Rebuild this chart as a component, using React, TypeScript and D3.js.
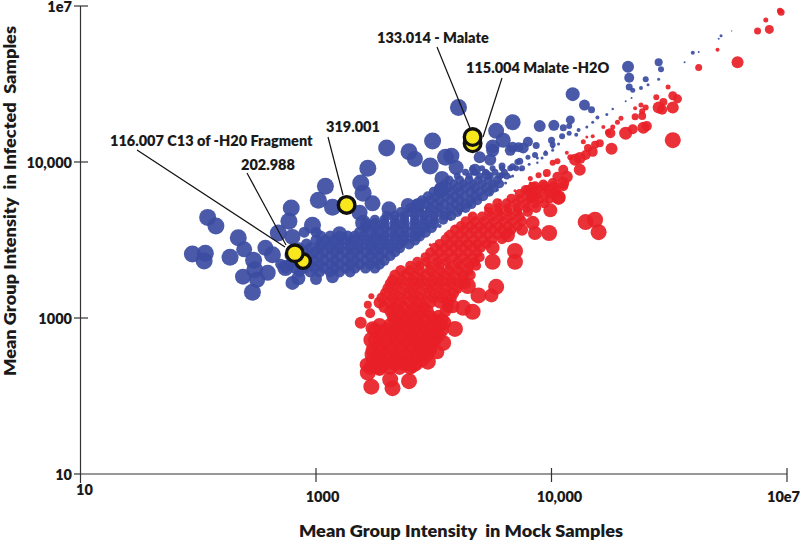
import React from "react";
import * as d3 from "d3";

type P = [number, number, number];
type Row = [number, number, number[]];

// All intensities are log10 values; third number is the point's score (bubble size).
const xTickValues = [10, 1000, 100000, 10000000];
const xTickLabels = ["10", "1000", "10,000", "10e7"];
const yTickValues = [10, 1000, 100000, 10000000];
const yTickLabels = ["10", "1000", "10,000", "1e7"];

const blueScattered: P[] = [
  [4.21,5.70,8.5],[3.6,5.18,8.5],[3.99,5.27,8.5],[3.79,5.13,8.5],[3.84,5.04,8],[3.97,4.95,8.5],[4.1,5.06,8.5],[4.15,5.08,8],
  [4.19,4.93,7.5],[4.07,4.79,7.5],[4.06,4.64,7.5],[3.44,4.92,8.5],[3.38,4.73,8.5],[3.4,4.6,8.5],[3.48,4.47,8],[3.08,4.69,8.5],
  [3.02,4.51,8.5],[3.14,4.42,8.5],[3.62,4.4,7.5],[3.78,4.45,7],[3.87,4.45,7],[2.79,4.41,8.5],[2.77,4.24,8.5],[2.08,4.29,8.5],
  [2.15,4.18,8.5],[2.34,4.03,8.5],[2.39,3.88,8],[1.95,3.82,8.5],[2.06,3.83,8.5],[2.05,3.73,8.5],[2.27,3.78,8.5],[2.46,3.33,8.5],
  [2.38,3.53,8],[2.47,3.74,8.5],[2.48,3.62,8.5],[2.57,3.9,8],[2.63,3.81,8.5],[2.68,4.09,8.5],[2.8,4.04,8],[2.97,4.19,8.5],
  [3.2,4.08,7.5],[2.59,3.58,8],[2.8,3.45,7],[2.85,3.51,7],[3.0,3.5,6],[3.14,3.53,6.5],[2.74,3.64,8],[2.5,3.49,8],[3.4,4.22,8],
  [3.37,4.35,8],[4.67,5.51,8],[4.53,5.4,8],[4.59,5.28,7.5],[4.5,5.2,7],[4.5,5.15,6.5],[4.39,5.06,6],[4.48,5.03,6],[4.35,4.9,6],
  [4.45,4.83,5],[4.65,5.15,5.5],
  [5.65,6.22,6],[5.91,6.28,4],[5.93,6.19,3],[5.66,6.08,5],[5.8,6.06,3],[5.66,5.96,3.5],[5.69,5.92,2.5],[5.76,5.95,2],[5.82,5.99,1.5],
  [5.91,6.06,1.5],[6.2,6.4,2],[6.25,6.41,1],[6.13,6.28,1],[6.44,6.62,1.5],[6.42,6.58,1],[6.53,6.68,0.6],[5.18,5.87,7],[5.28,5.73,5.5],
  [5.34,5.67,3.5],[4.9,5.46,6],[5.02,5.47,5.5],[5.16,5.54,4.5],[5.1,5.44,3.5],[5.15,5.46,3],[5.09,5.33,3],[5.15,5.37,2.5],[5.21,5.35,2],
  [5.23,5.41,2],[5.39,5.57,2],[5.35,5.51,1.5],[5.3,5.45,1.5],[5.47,5.61,1.5],[5.52,5.68,1.2],[5.63,5.78,1],[5.68,5.82,1],[4.67,5.19,5.5],
  [4.76,5.18,5.5],[4.8,5.26,5],[4.87,5.21,3.5],[4.72,5.19,5],[5.0,5.28,3.5],[5.01,5.22,3],[4.86,5.09,3],[4.8,5.06,2.5],[4.73,5.01,3.5],
  [4.71,5.0,3],[4.67,4.94,3.5],[4.75,4.92,3],[4.58,4.95,3.5],[4.58,4.83,3],[4.95,5.11,2.5],[4.92,5.05,1.5],[5.01,5.15,1.5],[5.06,5.23,1.5],
  [4.88,4.99,1.2],[4.65,4.81,1.5],
  [4.05,4.18,2],[4.14,4.27,2],[4.22,4.35,2],[4.31,4.44,2],[4.39,4.53,2],[4.48,4.6,2],[4.54,4.64,1.5],[4.61,4.73,1.5],[4.67,4.82,1.5],
  [4.74,4.9,1.5],[4.81,4.97,1.5],[4.88,5.05,1.5],[4.95,5.13,1.5],[5.01,5.19,1.5],
];

const blueMass: Row[] = [
  [3.59,5.5,[2.86,2.95,3.03,3.12,3.2,3.29]],
  [3.64,5.5,[2.74,2.82,2.9,2.99,3.07,3.16,3.25,3.33,3.42,3.5]],
  [3.69,5.5,[2.7,2.78,2.86,2.95,3.03,3.12,3.2,3.29,3.37,3.46,3.54]],
  [3.74,5.5,[2.82,2.9,2.99,3.07,3.16,3.25,3.33,3.42,3.5,3.58]],
  [3.8,5.5,[2.78,2.86,2.95,3.03,3.12,3.2,3.29,3.37,3.46,3.54,3.63]],
  [3.85,5.5,[2.9,2.99,3.07,3.16,3.25,3.33,3.42,3.5,3.58,3.67]],
  [3.9,5.5,[2.86,2.95,3.03,3.12,3.2,3.29,3.37,3.46,3.54,3.63,3.71]],
  [3.95,5.5,[2.92,3.04,3.12,3.2,3.29,3.37,3.46,3.54,3.62,3.71,3.79]],
  [4.0,5.5,[3.0,3.08,3.16,3.25,3.33,3.42,3.5,3.58,3.67,3.75,3.84]],
  [4.05,5.5,[3.04,3.12,3.2,3.27,3.33,3.41,3.5,3.58,3.67,3.75,3.84,3.88]],
  [4.1,5.5,[2.9,3.0,3.37,3.46,3.54,3.63,3.71,3.8,3.88,3.93]],
  [4.16,5.5,[3.42,3.5,3.58,3.67,3.75,3.84,3.92,3.98]],
  [4.21,5.5,[3.42,3.5,3.58,3.67,3.75,3.84,3.92,4.0]],
  [4.26,5,[3.5,3.58,3.67,3.75,3.84,3.92,4.0,4.08]],
  [4.31,5,[3.6,3.67,3.75,3.84,3.92,4.0,4.09,4.15]],
  [4.36,5,[3.72,3.8,3.88,3.96,4.04,4.12,4.2]],
  [4.41,5,[3.8,3.88,3.97,4.05,4.14,4.22,4.27]],
  [4.46,5,[3.85,3.93,4.01,4.09,4.18,4.26,4.32]],
  [4.51,5,[3.9,3.97,4.05,4.14,4.22,4.31,4.37]],
  [4.56,5,[3.95,4.02,4.1,4.18,4.26,4.35,4.42]],
  [4.62,5,[4.0,4.07,4.14,4.22,4.31,4.39,4.47]],
  [4.67,5,[4.05,4.12,4.2,4.27,4.35,4.44,4.51]],
  [4.72,4.5,[4.09,4.17,4.25,4.33,4.41,4.5,4.56]],
  [4.77,4.5,[4.13,4.22,4.3,4.38,4.46,4.54]],
  [4.82,3.5,[4.2,4.3,4.39,4.48,4.56,4.62]],
  [4.87,3.5,[4.27,4.35,4.44,4.52,4.6]],
  [4.92,3,[4.33,4.41,4.5,4.58,4.65,4.7]],
];

const redScattered: P[] = [
  [3.47,2.12,8],[3.65,2.1,8],[3.79,2.19,8],[3.44,2.3,8],[3.43,2.4,7],[3.63,2.21,8],[3.54,2.36,8],[3.82,2.4,8],[3.95,2.44,8],[4.03,2.56,7],
  [4.08,2.68,8],[4.18,2.86,8],[4.08,2.94,8],[3.94,2.68,8],[3.48,2.53,8],[3.47,2.72,8],[3.48,2.87,7],[3.38,2.94,6],[3.46,3.06,5],[3.44,3.17,4],
  [3.47,3.28,3],[4.53,3.4,8],[4.49,3.29,7],[4.38,3.29,8],[4.29,3.41,8],[4.33,3.08,8],[4.25,3.13,8],[4.16,3.15,7],[4.69,3.72,8],[4.69,3.86,8],
  [4.5,3.72,8],[4.5,3.9,7],[4.98,4.09,8],[4.86,4.09,7],[4.84,4.22,7],[4.75,4.13,6],[4.63,4.06,7],[4.99,4.38,7],[5.06,4.54,7],[5.29,4.23,8],
  [5.37,4.26,8],[5.4,4.1,8],
  [6.95,6.92,3.5],[6.94,6.94,3],[6.82,6.82,2.5],[6.85,6.7,4.5],[6.75,6.68,3.5],[6.58,6.28,6],[6.41,6.44,2],[6.25,6.21,3.5],[5.99,5.96,2.5],
  [6.03,5.28,8],[6.03,5.85,4.5],[6.07,5.81,4.5],[5.89,5.83,3],[5.95,5.77,4],[5.91,5.7,6],[5.94,5.67,5],[6.03,5.7,6],[5.8,5.7,3],[5.76,5.73,2.5],
  [5.71,5.69,2],[5.77,5.65,3],[5.77,5.59,4],[5.71,5.58,3.5],[5.59,5.56,2.5],[5.56,5.51,2.5],[5.52,5.45,2.5],[5.44,5.45,2],[5.5,5.37,5],[5.48,5.38,3],
  [5.35,5.33,2],[5.3,5.32,1.5],[5.27,5.26,2.5],[5.63,5.37,6.5],[5.69,5.42,5],[5.78,5.44,6],[5.81,5.46,5],[5.51,5.17,6],[5.37,5.22,4],[5.41,5.24,4],
  [5.35,5.13,5],[5.31,5.18,4],[5.29,5.09,5],[5.24,5.05,6],[5.2,5.03,6],[5.24,4.9,6],[5.16,5.06,3],[5.13,5.12,2],[5.05,5.01,3],[5.01,4.99,3],
  [5.1,4.9,5],[5.13,4.81,6],[5.1,4.73,6],[5.05,4.81,5],[4.96,4.86,4],[4.89,4.83,3],[4.82,4.79,2.5],[5.01,4.73,5],[4.93,4.71,5],[4.84,4.68,5],
  [4.78,4.64,5],[5.06,4.55,7],[4.84,4.55,6],
  [3.97,3.94,1.5],[4.1,4.08,1.5],[4.18,4.18,1.5],[4.31,4.31,1.5],[4.44,4.41,1.5],[4.56,4.51,1.5],[4.69,4.63,1.5],[4.82,4.73,1.5],[4.95,4.83,1.5],
];

const redMass: Row[] = [
  [2.36,7,[3.46,3.54,3.63,3.71,3.8]],
  [2.41,7,[3.5,3.58,3.67,3.75,3.85]],
  [2.46,7,[3.48,3.56,3.65,3.73,3.82,3.9]],
  [2.52,7,[3.52,3.6,3.69,3.77,3.86,3.94]],
  [2.59,7,[3.48,3.56,3.65,3.73,3.82,3.9,3.97]],
  [2.65,7,[3.54,3.62,3.71,3.8,3.88,3.97]],
  [2.72,7,[3.5,3.59,3.67,3.76,3.84,3.93,4.01]],
  [2.78,7,[3.54,3.63,3.72,3.8,3.89,3.97,4.04]],
  [2.85,7,[3.5,3.59,3.67,3.76,3.84,3.93,4.01,4.07]],
  [2.91,7,[3.54,3.63,3.71,3.8,3.88,3.97,4.05]],
  [2.97,7,[3.67,3.76,3.84,3.93,4.01,4.07]],
  [3.03,6,[3.65,3.72,3.8,3.88,3.97,4.04]],
  [3.09,6,[3.63,3.71,3.8,3.88,3.95,4.1]],
  [3.14,6,[3.58,3.67,3.75,3.84,3.92,4.12]],
  [3.2,6,[3.54,3.63,3.71,3.8,3.88,3.97,4.05,4.12]],
  [3.26,5.5,[3.56,3.65,3.73,3.82,3.9,3.99,4.07,4.15]],
  [3.32,5.5,[3.59,3.67,3.76,3.84,3.93,4.01,4.09,4.17]],
  [3.38,5.5,[3.61,3.69,3.78,3.86,3.95,4.03,4.11,4.2]],
  [3.44,5.5,[3.63,3.71,3.8,3.88,3.97,4.05,4.14,4.22,4.27]],
  [3.49,5.5,[3.65,3.73,3.82,3.9,3.99,4.07,4.15,4.24]],
  [3.55,5.5,[3.67,3.76,3.84,3.93,4.01,4.09,4.17,4.25,4.31]],
  [3.61,5.5,[3.72,3.8,3.88,3.97,4.05,4.13,4.21,4.29]],
  [3.67,5,[3.8,3.88,3.97,4.05,4.14,4.22,4.3,4.36]],
  [3.72,5,[3.86,3.94,4.03,4.11,4.2,4.28,4.35]],
  [3.78,5,[3.93,4.01,4.09,4.17,4.25,4.33,4.39]],
  [3.84,5,[3.97,4.05,4.13,4.21,4.29,4.37]],
  [3.9,5,[4.01,4.09,4.17,4.25,4.33,4.4]],
  [3.95,5,[4.05,4.13,4.21,4.29,4.37,4.45]],
  [4.01,5,[4.1,4.18,4.26,4.34,4.42,4.5,4.58]],
  [4.07,5,[4.14,4.22,4.3,4.38,4.46,4.54,4.62]],
  [4.13,5,[4.18,4.26,4.34,4.42,4.5,4.58,4.66]],
  [4.18,5,[4.23,4.31,4.39,4.47,4.55,4.63,4.71]],
  [4.24,5,[4.27,4.35,4.43,4.51,4.59,4.67,4.75]],
  [4.3,5,[4.33,4.41,4.49,4.57,4.65,4.73]],
  [4.36,5,[4.47,4.55,4.63,4.71,4.8]],
  [4.41,5,[4.47,4.55,4.63,4.71,4.79,4.87]],
  [4.47,5,[4.54,4.62,4.7,4.78,4.86,4.94]],
  [4.53,5,[4.66,4.74,4.82,4.9,4.98]],
  [4.59,5,[4.73,4.81,4.89,4.97,5.03]],
  [4.64,5,[4.8,4.88,4.96,5.04]],
  [4.69,5,[4.86,4.94,5.02,5.1]],
];

const highlighted: P[] = [
  [4.33,5.24,8.3],[4.33,5.32,8.3],[3.26,4.45,8.3],[2.89,3.73,7.3],[2.82,3.83,8.3],
];

const annotations = [
  { label: "133.014 - Malate", tx: 377, ty: 43, from: [437, 47], to: [470, 128] },
  { label: "115.004 Malate -H2O", tx: 466, ty: 73, from: [502, 78], to: [483, 137] },
  { label: "319.001", tx: 326, ty: 132, from: [328, 137], to: [343, 195] },
  { label: "116.007 C13 of -H20 Fragment", tx: 110, ty: 146, from: [137, 150], to: [285, 247] },
  { label: "202.988", tx: 241, ty: 170, from: [247, 173], to: [286, 245] },
];

const W = 800, H = 542;
const FONT = "Lato, 'Open Sans', sans-serif";
const BLUE = "#3b4ca2";
const RED = "#e81f27";

const x = d3.scaleLog().domain([10, 1e7]).range([80.5, 787]);
const y = d3.scaleLog().domain([10, 1e7]).range([474, 6]);
const r = d3.scaleLinear().domain([0, 10]).range([0, 10]);

const expand = (rows: Row[]): P[] =>
  rows.flatMap(([ye, s, xs]) => xs.map((xe) => [xe, ye, s] as P));

function Bubbles({ data, fill }: { data: P[]; fill: string }) {
  return (
    <g fill={fill} fillOpacity={0.92}>
      {data.map((d, i) => (
        <circle key={i} cx={x(10 ** d[0])} cy={y(10 ** d[1])} r={r(d[2])} />
      ))}
    </g>
  );
}

export default function App() {
  const txt = { fontFamily: FONT, fontWeight: 800, fill: "#1a1a1a" } as const;
  return (
    <svg width={W} height={H} viewBox={`0 0 ${W} ${H}`} style={{ position: "fixed", left: 0, top: 0, background: "#fff" }}>
      <Bubbles data={expand(blueMass)} fill={BLUE} />
      <Bubbles data={blueScattered} fill={BLUE} />
      <Bubbles data={expand(redMass)} fill={RED} />
      <Bubbles data={redScattered} fill={RED} />

      <g stroke="#333" strokeWidth={1.2}>
        <line x1={x(10)} x2={x(10)} y1={y(1e7)} y2={483} />
        <line x1={x(10)} x2={x(1e7)} y1={y(10)} y2={y(10)} />
        {xTickValues.slice(1).map((t) => (
          <line key={t} x1={x(t)} x2={x(t)} y1={468} y2={482} />
        ))}
        {yTickValues.map((t, i) => (
          <line key={t} x1={74} x2={i === 0 ? 81 : 88} y1={y(t)} y2={y(t)} />
        ))}
      </g>

      {xTickValues.map((t, i) => (
        <text key={t} {...txt} fontSize={14.5} textAnchor="middle" x={i === 0 ? 84.5 : i === 1 ? 322.5 : i === 2 ? 559.5 : 783.5} y={i === 0 ? 495 : 502}>
          {xTickLabels[i]}
        </text>
      ))}
      {yTickValues.map((t, i) => (
        <text key={t} {...txt} fontSize={14.5} textAnchor="end" x={72} y={y(t) + 5.5}>
          {yTickLabels[i]}
        </text>
      ))}

      <text {...txt} fontSize={17.5} x={299} y={537} textLength={324} lengthAdjust="spacingAndGlyphs" xmlSpace="preserve">
        Mean Group Intensity  in Mock Samples
      </text>
      <text {...txt} fontSize={17.5} transform="translate(16,376) rotate(-90)" textLength={350} lengthAdjust="spacingAndGlyphs" xmlSpace="preserve">
        Mean Group Intensity  in Infected  Samples
      </text>

      <g stroke="#111" strokeWidth={1.2}>
        {annotations.map((a) => (
          <line key={a.label} x1={a.from[0]} y1={a.from[1]} x2={a.to[0]} y2={a.to[1]} />
        ))}
      </g>
      {annotations.map((a) => (
        <text key={a.label} {...txt} fontSize={14.5} x={a.tx} y={a.ty}>
          {a.label}
        </text>
      ))}
      <g fill="#f8e71c" stroke="#111" strokeWidth={3.4}>
        {highlighted.map((d, i) => (
          <circle key={i} cx={x(10 ** d[0])} cy={y(10 ** d[1])} r={r(d[2])} />
        ))}
      </g>
    </svg>
  );
}
